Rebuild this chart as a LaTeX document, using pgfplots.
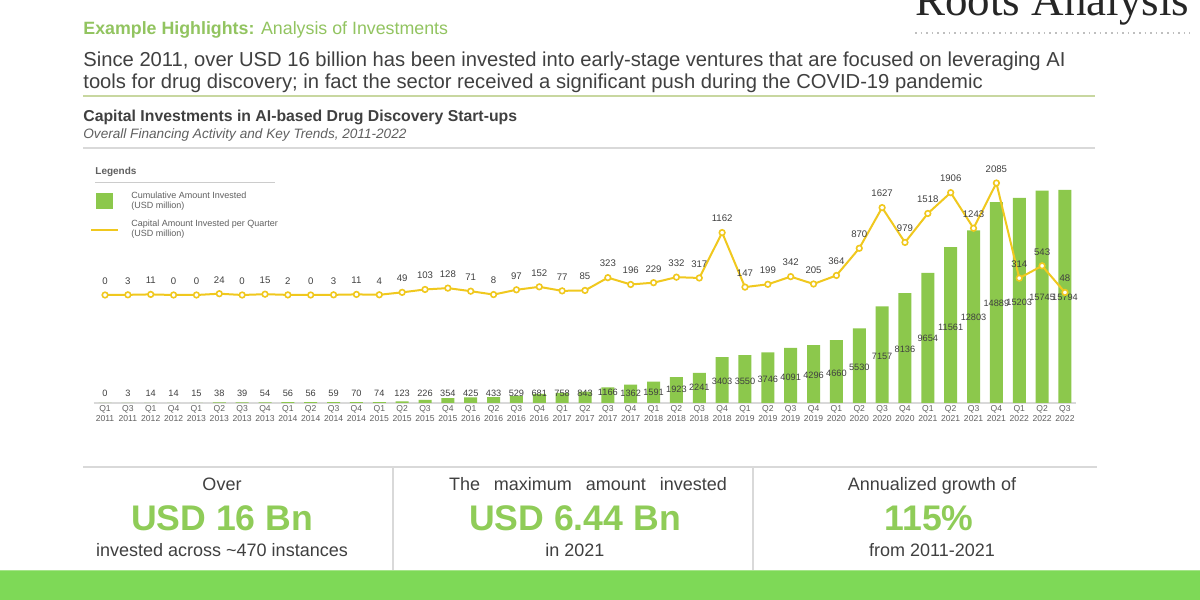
\documentclass[border=0pt]{standalone}
\usepackage{pgfplots}
\pgfplotsset{compat=1.18}
\usepackage{pgfplotstable}
\usepackage{graphicx}
\usepackage{fontspec}
\setmainfont{Liberation Sans}
\newfontfamily\serifont{Liberation Serif}

\definecolor{bargreen}{RGB}{140,200,76}
\definecolor{lineyellow}{RGB}{240,200,30}
\definecolor{hlgreen}{RGB}{146,196,96}
\definecolor{biggreen}{RGB}{143,204,88}
\definecolor{band}{RGB}{126,217,87}
\definecolor{txt}{RGB}{64,64,64}
\definecolor{ltxt}{RGB}{96,96,96}
\definecolor{rulegreen}{RGB}{200,215,160}

\pgfplotstableread{
i cum ly
0 0 741
1 3 741
2 14 741
3 14 741
4 15 741
5 38 741
6 39 741
7 54 741
8 56 741
9 56 741
10 59 741
11 70 741
12 74 741
13 123 741
14 226 741
15 354 741
16 425 741
17 433 741
18 529 741
19 681 741
20 758 741
21 843 741
22 1166 815
23 1362 741
24 1591 815
25 1923 1038
26 2241 1186
27 3403 1631
28 3550 1631
29 3746 1779
30 4091 1927
31 4296 2076
32 4660 2224
33 5530 2669
34 7157 3484
35 8136 4003
36 9654 4818
37 11561 5634
38 12803 6375
39 14889 7413
40 15203 7487
41 15745 7858
42 15794 7858
}\bardata

\pgfplotstableread{
i q
0 0
1 3
2 11
3 0
4 0
5 24
6 0
7 15
8 2
9 0
10 3
11 11
12 4
13 49
14 103
15 128
16 71
17 8
18 97
19 152
20 77
21 85
22 323
23 196
24 229
25 332
26 317
27 1162
28 147
29 199
30 342
31 205
32 364
33 870
34 1627
35 979
36 1518
37 1906
38 1243
39 2085
40 314
41 543
42 48
}\linedata

\begin{document}
\begin{tikzpicture}
\useasboundingbox (0,0) rectangle (600pt,300pt);
\clip (0,0) rectangle (600pt,300pt);
\fill[white] (0,0) rectangle (600pt,300pt);
\begin{scope}[shift={(0,300pt)}, x=0.5pt, y=-0.5pt]
  % logo
  \node[anchor=base west, inner sep=0, font=\serifont\fontsize{22.5}{22}\selectfont, text=black!85] at (915,16) {Roots Analysis};
  \draw[black!25, dotted, line width=0.8pt] (915,33) -- (1190,33);
  % header
  \node[anchor=base west, inner sep=0, font=\fontsize{8.9}{10}\selectfont, text=hlgreen] at (83,35) {\textbf{Example Highlights:} Analysis of Investments};
  \node[anchor=base west, inner sep=0, font=\fontsize{10.1}{12}\selectfont, text=txt] at (83,67) {Since 2011, over USD 16 billion has been invested into early-stage ventures that are focused on leveraging AI};
  \node[anchor=base west, inner sep=0, font=\fontsize{10.1}{12}\selectfont, text=txt] at (83,89) {tools for drug discovery; in fact the sector received a significant push during the COVID-19 pandemic};
  \draw[rulegreen, line width=0.9pt] (83,96) -- (1095,96);
  \node[anchor=base west, inner sep=0, font=\bfseries\fontsize{7.9}{9}\selectfont, text=txt] at (83,122) {Capital Investments in AI-based Drug Discovery Start-ups};
  \node[anchor=base west, inner sep=0, font=\itshape\fontsize{6.8}{8}\selectfont, text=ltxt] at (83,139) {Overall Financing Activity and Key Trends, 2011-2022};
  \draw[black!15, line width=0.6pt] (83,148) -- (1095,148);
  % legend
  \node[anchor=base west, inner sep=0, font=\bfseries\fontsize{5}{6}\selectfont, text=ltxt] at (95,175) {Legends};
  \draw[black!20, line width=0.5pt] (95,183) -- (275,183);
  \fill[bargreen] (96,193) rectangle (113,209);
  \node[anchor=base west, inner sep=0, font=\fontsize{4.5}{5}\selectfont, text=ltxt] at (131,199) {Cumulative Amount Invested};
  \node[anchor=base west, inner sep=0, font=\fontsize{4.5}{5}\selectfont, text=ltxt] at (131,209) {(USD million)};
  \draw[lineyellow, line width=1.2pt] (91,230) -- (118,230);
  \node[anchor=base west, inner sep=0, font=\fontsize{4.5}{5}\selectfont, text=ltxt] at (131,227) {Capital Amount Invested per Quarter};
  \node[anchor=base west, inner sep=0, font=\fontsize{4.5}{5}\selectfont, text=ltxt] at (131,237) {(USD million)};
  % bottom
  \draw[black!15, line width=0.8pt] (83,467) -- (1097,467);
  \draw[black!15, line width=0.6pt] (393,468) -- (393,570);
  \draw[black!15, line width=0.6pt] (753,468) -- (753,570);
  \node[anchor=base, inner sep=0, font=\fontsize{9}{10}\selectfont, text=txt] at (222,491) {Over};
  \node[anchor=base, inner sep=0, font=\bfseries\fontsize{17.8}{20}\selectfont, text=biggreen] at (222,531) {USD 16 Bn};
  \node[anchor=base, inner sep=0, font=\fontsize{9}{10}\selectfont, text=txt] at (222,557) {invested across \textasciitilde 470 instances};
  \node[anchor=base, inner sep=0, font=\fontsize{9}{10}\selectfont, text=txt] at (588,491) {\makebox[139pt][s]{The maximum amount invested}};
  \node[anchor=base, inner sep=0, font=\bfseries\fontsize{17.8}{20}\selectfont, text=biggreen] at (575,531) {USD 6.44 Bn};
  \node[anchor=base, inner sep=0, font=\fontsize{9}{10}\selectfont, text=txt] at (575,557) {in 2021};
  \node[anchor=base, inner sep=0, font=\fontsize{9}{10}\selectfont, text=txt] at (932,491) {Annualized growth of};
  \node[anchor=base, inner sep=0, font=\bfseries\fontsize{17.8}{20}\selectfont, text=biggreen] at (929,531) {115\%};
  \node[anchor=base, inner sep=0, font=\fontsize{9}{10}\selectfont, text=txt] at (932,557) {from 2011-2021};
  \fill[band] (0,570) rectangle (1200,600);
  \draw[band!70!white, line width=0.8pt] (0,570.5) -- (1200,570.5);
\end{scope}

\begin{axis}[
  at={(46.8pt,98.5pt)}, anchor=south west,
  scale only axis, width=491.4pt, height=126.5pt,
  xmin=-0.5, xmax=42.5, ymin=0, ymax=18755,
  axis x line*=bottom, axis y line=none,
  x axis line style={draw=black!15, line width=0.6pt, -},
  ytick=\empty,
  xtick={0,...,42},
  xticklabels={Q1\\2011, Q3\\2011, Q1\\2012, Q4\\2012, Q1\\2013, Q2\\2013, Q3\\2013, Q4\\2013, Q1\\2014, Q2\\2014, Q3\\2014, Q4\\2014, Q1\\2015, Q2\\2015, Q3\\2015, Q4\\2015, Q1\\2016, Q2\\2016, Q3\\2016, Q4\\2016, Q1\\2017, Q2\\2017, Q3\\2017, Q4\\2017, Q1\\2018, Q2\\2018, Q3\\2018, Q4\\2018, Q1\\2019, Q2\\2019, Q3\\2019, Q4\\2019, Q1\\2020, Q2\\2020, Q3\\2020, Q4\\2020, Q1\\2021, Q2\\2021, Q3\\2021, Q4\\2021, Q1\\2022, Q2\\2022, Q3\\2022},
  major tick length=0pt,
  xticklabel style={align=center, font=\fontsize{4.3}{5}\selectfont, text=ltxt, inner sep=1pt},
  clip=false,
]
\addplot[ybar, bar width=6.5pt, fill=bargreen, draw=none] table[x=i,y=cum]{\bardata};
\addplot[draw=none, mark=none, nodes near coords, point meta=explicit symbolic,
  nodes near coords align=center,
  every node near coord/.append style={font=\fontsize{4.6}{5}\selectfont, text=txt, inner sep=0pt}]
  table[x=i, y=ly, meta=cum]{\bardata};
\end{axis}

\begin{axis}[
  at={(46.8pt,98.5pt)}, anchor=south west,
  scale only axis, width=491.4pt, height=126.5pt,
  xmin=-0.5, xmax=42.5, ymin=-2011, ymax=2700,
  hide axis, clip=false,
]
\addplot[lineyellow, line width=1pt, mark=*, mark size=1.4pt,
  mark options={fill=white, draw=lineyellow, line width=0.8pt},
  nodes near coords, point meta=explicit symbolic,
  nodes near coords align=center,
  every node near coord/.append style={font=\fontsize{4.8}{5}\selectfont, text=txt, inner sep=0pt, yshift=7pt}]
  table[x=i, y=q, meta=q]{\linedata};
\end{axis}
\end{tikzpicture}
\end{document}
